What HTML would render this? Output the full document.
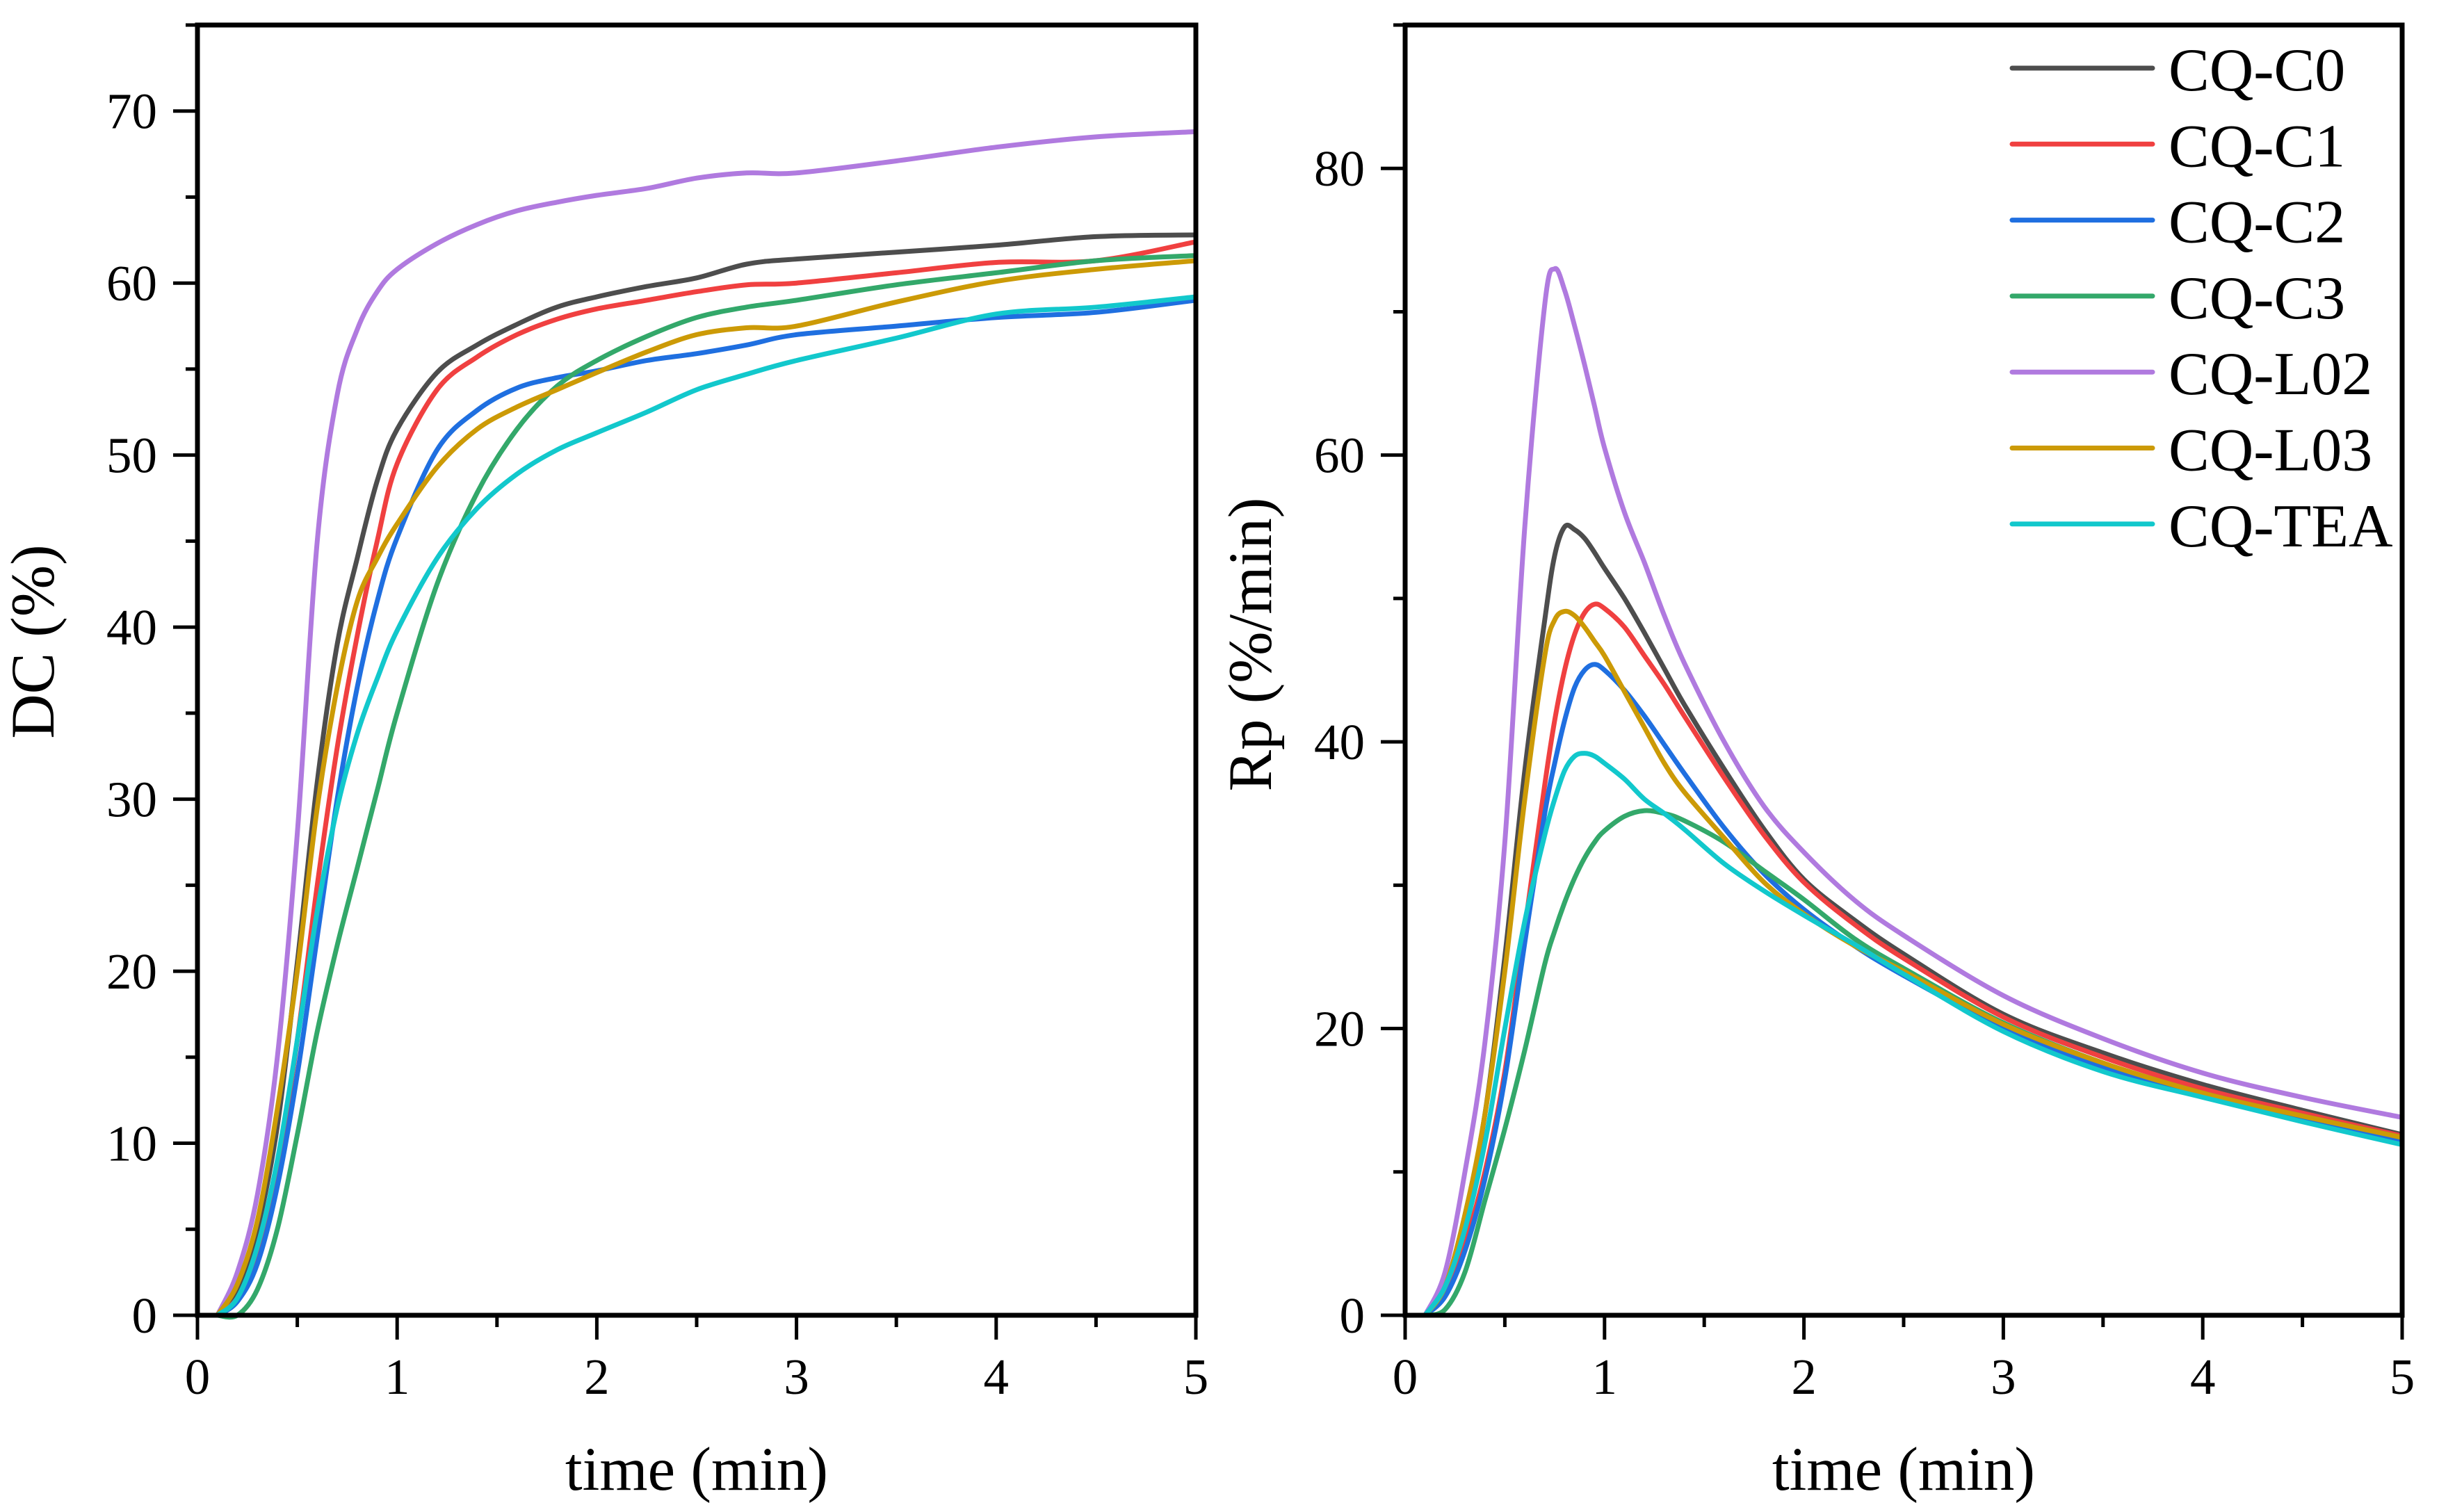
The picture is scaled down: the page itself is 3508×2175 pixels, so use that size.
<!DOCTYPE html>
<html><head><meta charset="utf-8"><style>
html,body{margin:0;padding:0;background:#fff;}
svg{display:block;}
text{font-family:"Liberation Serif","Times New Roman",serif;fill:#000;}
</style></head><body>
<svg id="chart" width="3508" height="2175" viewBox="0 0 3508 2175" xmlns="http://www.w3.org/2000/svg">
<g id="left"></g>
<g id="right"></g>
<g id="legend"></g>
</svg>
<script>
const seriesNames = ["CQ-C0","CQ-C1","CQ-C2","CQ-C3","CQ-L02","CQ-L03","CQ-TEA"];
const seriesColors = ["#4d4d4d","#f04040","#1f6fe0","#33a86a","#b07adf","#cc9a06","#12c8cc"];

const dcTime = [0.1,0.2,0.3,0.4,0.5,0.6,0.7,0.8,0.9,1.0,1.2,1.4,1.6,1.8,2.0,2.25,2.5,2.75,3.0,3.5,4.0,4.5,5.0];
const dcC0  = [0,1.5,5,11,20.5,31,39,44,48.5,51.5,54.8,56.4,57.6,58.6,59.2,59.8,60.3,61.1,61.4,61.8,62.2,62.7,62.8];
const dcC1  = [0,1,3.5,8.5,16,25,33,39.5,45,49.5,53.8,55.7,57,57.9,58.5,59,59.5,59.9,60.0,60.6,61.2,61.3,62.4];
const dcC2  = [0,0.8,3,7.5,14,22,30,36.5,41.5,45.2,50.3,52.6,53.9,54.5,54.9,55.5,55.9,56.4,57.0,57.5,58.0,58.3,59.0];
const dcC3  = [0,0,1.5,5,10.5,16.5,21.5,26,30.5,35,42.5,47.8,51.5,54,55.5,56.9,58,58.6,59,59.9,60.6,61.3,61.6];
const dcL02 = [0,2.5,7,15,28,45,53.5,57.3,59.5,60.8,62.3,63.4,64.2,64.7,65.1,65.5,66.1,66.4,66.4,67.1,67.9,68.5,68.8];
const dcL03 = [0,1.8,5.5,12,20,29.5,36.5,41.5,44,46,49.3,51.5,52.8,53.8,54.8,56,57,57.4,57.5,58.9,60.1,60.8,61.3];
const dcTEA = [0,1,4,9,16,23.5,29.5,33.8,37,39.8,44,46.9,48.9,50.3,51.3,52.5,53.8,54.7,55.5,56.8,58.2,58.6,59.2];

const rpTime = [0.1,0.2,0.3,0.4,0.5,0.6,0.7,0.75,0.8,0.85,0.9,0.95,1.0,1.1,1.2,1.3,1.4,1.6,1.8,2.0,2.25,2.5,3.0,3.5,4.0,4.5,5.0];
const rpC0  = [0,2,7,14,25,38,48.5,53,55,54.8,54.2,53.2,52.1,50,47.6,45.1,42.6,38.1,33.9,30.4,27.6,25.2,21,18.3,16.1,14.3,12.6];
const rpC1  = [0,1.5,5,10,17,27,37,41.5,45,47.5,49,49.6,49.3,48,46,44,41.8,37.5,33.5,30.2,27.3,24.9,20.8,18,15.8,14.1,12.5];
const rpC2  = [0,1.3,4.5,9.5,16.5,26,35,38.5,41.5,43.8,45,45.4,45,43.6,41.8,39.8,37.8,34,30.8,28.3,25.8,23.7,20,17.3,15.3,13.6,12.1];
const rpC3  = [0,0.4,3,8,13,18.5,24.5,26.8,28.8,30.5,31.9,33,33.8,34.8,35.2,35,34.5,33,31,29,26.3,24.2,20.4,17.6,15.5,13.9,12.4];
const rpL02 = [0,3,10,19,33,55,70.5,73,71.5,69,66.3,63.4,60.5,56,52.5,48.8,45.5,40,35.5,32.3,29,26.5,22.3,19.3,16.9,15.2,13.8];
const rpL03 = [0,2,7,14,24,36,46,48.5,49.1,48.8,48,47,46,43.5,41,38.5,36.5,33.3,30.2,28,25.8,24,20.3,17.6,15.5,13.9,12.4];
const rpTEA = [0,2,6,12,20,27.5,33.5,36,38,39,39.2,39,38.5,37.4,36,35,33.9,31.5,29.6,27.9,25.9,23.8,19.8,17,15.2,13.5,11.9];

const dcSeries = [dcC0,dcC1,dcC2,dcC3,dcL02,dcL03,dcTEA];
const rpSeries = [rpC0,rpC1,rpC2,rpC3,rpL02,rpL03,rpTEA];
const xTicks = [0,1,2,3,4,5];
const dcTicks = [0,10,20,30,40,50,60,70];
const rpTicks = [0,20,40,60,80];

const NS = "http://www.w3.org/2000/svg";
function mk(tag, attrs, parent){
  const e = document.createElementNS(NS, tag);
  for (const k in attrs) e.setAttribute(k, attrs[k]);
  parent.appendChild(e);
  return e;
}
function smoothPath(pts){
  let d = "M" + pts[0][0].toFixed(1) + "," + pts[0][1].toFixed(1);
  for (let i=0;i<pts.length-1;i++){
    const p0 = pts[Math.max(0,i-1)], p1 = pts[i], p2 = pts[i+1], p3 = pts[Math.min(pts.length-1,i+2)];
    const c1x = p1[0] + (p2[0]-p0[0])/6, c1y = p1[1] + (p2[1]-p0[1])/6;
    const c2x = p2[0] - (p3[0]-p1[0])/6, c2y = p2[1] - (p3[1]-p1[1])/6;
    d += " C" + c1x.toFixed(1)+","+c1y.toFixed(1)+" "+c2x.toFixed(1)+","+c2y.toFixed(1)+" "+p2[0].toFixed(1)+","+p2[1].toFixed(1);
  }
  return d;
}

function panel(g, cfg){
  const xS = v => cfg.x0 + (v - 0) / 5 * (cfg.x1 - cfg.x0);
  const yS = v => cfg.yb - v / cfg.ymax * (cfg.yb - cfg.yt);
  cfg.series.forEach((vals, si) => {
    const pts = cfg.time.map((t,i) => [xS(t), yS(vals[i])]);
    const p = mk("path", {d: smoothPath(pts), fill:"none", stroke: seriesColors[si], "stroke-width":7, "stroke-linejoin":"round"}, g);
    
    
  });
  const fr = mk("rect", {x:cfg.x0, y:cfg.yt, width:cfg.x1-cfg.x0, height:cfg.yb-cfg.yt, fill:"none", stroke:"#000", "stroke-width":7}, g);
  
  
  for (let v=0; v<=5.0001; v+=0.5){
    const major = Math.abs(v-Math.round(v))<1e-6;
    const x = xS(v);
    const t = mk("line", {x1:x, x2:x, y1:cfg.yb, y2:cfg.yb + (major?35:17), stroke:"#000", "stroke-width":5}, g);
    
    
  }
  xTicks.forEach(v => {
    const tx = mk("text", {x:xS(v), y:2005, "font-size":73, "text-anchor":"middle"}, g);
    tx.textContent = v;
    
    
  });
  for (let v=0; v<=cfg.ymax+1e-6; v+=cfg.minor){
    const major = Math.abs(v/cfg.major - Math.round(v/cfg.major))<1e-6;
    const y = yS(v);
    const t = mk("line", {x1:cfg.x0, x2:cfg.x0 - (major?35:17), y1:y, y2:y, stroke:"#000", "stroke-width":5}, g);
    
    
  }
  cfg.ticks.forEach(v => {
    const ty = mk("text", {x:cfg.x0 - 58, y:yS(v) + 25, "font-size":73, "text-anchor":"end"}, g);
    ty.textContent = v;
    
    
  });
  const xt = mk("text", {x:(cfg.x0+cfg.x1)/2, y:2143, "font-size":89, "text-anchor":"middle"}, g);
  xt.textContent = "time (min)";
  
  
  const yt = mk("text", {x:0, y:0, "font-size":89, "text-anchor":"middle", transform:"translate("+cfg.titleX+","+cfg.titleY+") rotate(-90)"}, g);
  yt.textContent = cfg.title;
  
  
}

panel(document.getElementById("left"), {x0:284, x1:1720, yt:36, yb:1892, ymax:75, major:10, minor:5, ticks:dcTicks, time:dcTime, series:dcSeries, title:"DC (%)", titleX:77, titleY:923});
panel(document.getElementById("right"), {x0:2021, x1:3455, yt:36, yb:1892, ymax:90, major:20, minor:10, ticks:rpTicks, time:rpTime, series:rpSeries, title:"Rp (%/min)", titleX:1828, titleY:927});

const lg = document.getElementById("legend");
seriesNames.forEach((n,i) => {
  const y = 98 + i*109.3;
  const l = mk("line", {x1:2894, x2:3096, y1:y, y2:y, stroke:seriesColors[i], "stroke-width":7, "stroke-linecap":"round"}, lg);
  
  
  const t = mk("text", {x:3119, y:y+32, "font-size":88}, lg);
  t.textContent = n;
  
  
});
</script>
</body></html>
